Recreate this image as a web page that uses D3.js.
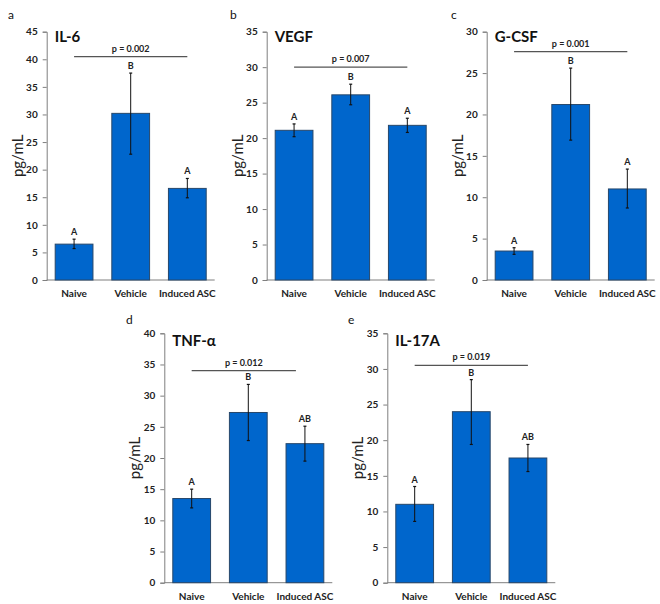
<!DOCTYPE html>
<html><head><meta charset="utf-8">
<script src="https://cdn.jsdelivr.net/npm/d3@7"></script>
<style>body{margin:0;background:#fff}svg{display:block}text{font-family:Lato,"Open Sans",sans-serif}</style>
</head><body>
<script>
const categories = ["Naive", "Vehicle", "Induced ASC"];
const titles = ["IL-6", "VEGF", "G-CSF", "TNF-α", "IL-17A"];
const panelLetters = ["a", "b", "c", "d", "e"];
const yMaxes = [45, 35, 30, 40, 35];
const means = [
  [6.5, 30.2, 16.6],
  [21.1, 26.1, 21.8],
  [3.5, 21.2, 11.0],
  [13.5, 27.3, 22.3],
  [11.0, 24.0, 17.5]
];
const errLow = [
  [5.7, 22.8, 14.9],
  [20.2, 24.7, 20.8],
  [3.1, 16.9, 8.7],
  [12.0, 22.8, 19.5],
  [8.6, 19.4, 15.6]
];
const errHigh = [
  [7.4, 37.5, 18.4],
  [22.0, 27.6, 22.8],
  [3.9, 25.6, 13.4],
  [15.0, 31.8, 25.1],
  [13.5, 28.5, 19.4]
];
const sigLetters = [
  ["A", "B", "A"],
  ["A", "B", "A"],
  ["A", "B", "A"],
  ["A", "B", "AB"],
  ["A", "B", "AB"]
];
const pTexts = ["p = 0.002", "p = 0.007", "p = 0.001", "p = 0.012", "p = 0.019"];
const pLineValues = [40.5, 30, 27.6, 34, 30.5];

// layout (not data)
const layout = [
  {x: 46.7, top: 31.7, bottom: 280, titleY: 42, letterX: 8, letterY: 19, pEndInset: 0},
  {x: 266.7, top: 31.7, bottom: 280, titleY: 42, letterX: 230, letterY: 19, pEndInset: 0},
  {x: 486.7, top: 31.7, bottom: 280, titleY: 42, letterX: 451, letterY: 19, pEndInset: 0},
  {x: 164.3, top: 333.3, bottom: 582.7, titleY: 346, letterX: 126, letterY: 324, pEndInset: 9},
  {x: 387.3, top: 333.3, bottom: 582.7, titleY: 346, letterX: 348, letterY: 324, pEndInset: 0}
];
const plotW = 168;

const svg = d3.select("body").append("svg").attr("width", 660).attr("height", 604);
const axisColor = "#7f7f7f";

layout.forEach((L, i) => {
  const g = svg.append("g");
  const x = d3.scaleBand().domain(categories).range([L.x, L.x + plotW]).paddingInner(0.333).paddingOuter(0.15);
  const y = d3.scaleLinear().domain([0, yMaxes[i]]).range([L.bottom, L.top]);

  // y axis
  const ya = g.append("g").attr("transform", `translate(${L.x},0)`)
    .call(d3.axisLeft(y).ticks(yMaxes[i] / 5).tickSize(4).tickPadding(5));
  ya.select(".domain").attr("stroke", axisColor).attr("stroke-width", 1);
  ya.selectAll(".tick line").attr("stroke", axisColor);
  ya.selectAll(".tick text").attr("font-size", 10).attr("font-weight", "bold").attr("fill", "#222")
    .attr("font-family", "Lato, sans-serif");

  // x axis
  const xa = g.append("g").attr("transform", `translate(0,${L.bottom})`)
    .call(d3.axisBottom(x).tickSize(0).tickPadding(10));
  xa.select(".domain").attr("d", `M${L.x},0H${L.x + plotW}`).attr("stroke", axisColor);
  xa.selectAll(".tick text").attr("font-size", 10).attr("font-weight", "bold").attr("fill", "#222")
    .attr("font-family", "Lato, sans-serif");

  // bars
  g.selectAll("rect.bar").data(categories).join("rect")
    .attr("x", c => x(c)).attr("width", x.bandwidth())
    .attr("y", (c, j) => y(means[i][j])).attr("height", (c, j) => y(0) - y(means[i][j]))
    .attr("fill", "#0066cc").attr("stroke", "#27476a").attr("stroke-width", 1);

  // error bars
  categories.forEach((c, j) => {
    const cx = x(c) + x.bandwidth() / 2;
    g.append("line").attr("x1", cx).attr("x2", cx)
      .attr("y1", y(errLow[i][j])).attr("y2", y(errHigh[i][j]))
      .attr("stroke", "#111").attr("stroke-width", 1);
    [errLow[i][j], errHigh[i][j]].forEach(v => {
      g.append("line").attr("x1", cx - 1.5).attr("x2", cx + 1.5)
        .attr("y1", y(v)).attr("y2", y(v)).attr("stroke", "#111").attr("stroke-width", 1.2);
    });
    g.append("text").attr("x", cx).attr("y", y(errHigh[i][j]) - 4)
      .attr("text-anchor", "middle").attr("font-size", 9).attr("font-weight", "bold")
      .attr("fill", "#222").text(sigLetters[i][j]);
  });

  // p line
  const x1 = x(categories[0]) + x.bandwidth() / 2;
  const x2 = x(categories[2]) + x.bandwidth() / 2 - L.pEndInset;
  const py = y(pLineValues[i]);
  g.append("line").attr("x1", x1).attr("x2", x2).attr("y1", py).attr("y2", py)
    .attr("stroke", "#555").attr("stroke-width", 1.2);
  g.append("text").attr("x", (x1 + x2) / 2).attr("y", py - 5).attr("text-anchor", "middle")
    .attr("font-size", 9).attr("font-weight", "bold").attr("fill", "#222").text(pTexts[i]);

  // title
  g.append("text").attr("x", L.x + 8).attr("y", L.titleY).attr("font-size", 15)
    .attr("font-weight", "bold").attr("fill", "#111").text(titles[i]);

  // y label
  g.append("text").attr("transform", `translate(${L.x - 24},${(L.top + L.bottom) / 2}) rotate(-90)`)
    .attr("text-anchor", "middle").attr("font-size", 15).attr("fill", "#222").text("pg/mL");

  // panel letter
  g.append("text").attr("x", L.letterX).attr("y", L.letterY).attr("font-size", 12)
    .attr("fill", "#111").text(panelLetters[i]);
});
</script>
</body></html>
